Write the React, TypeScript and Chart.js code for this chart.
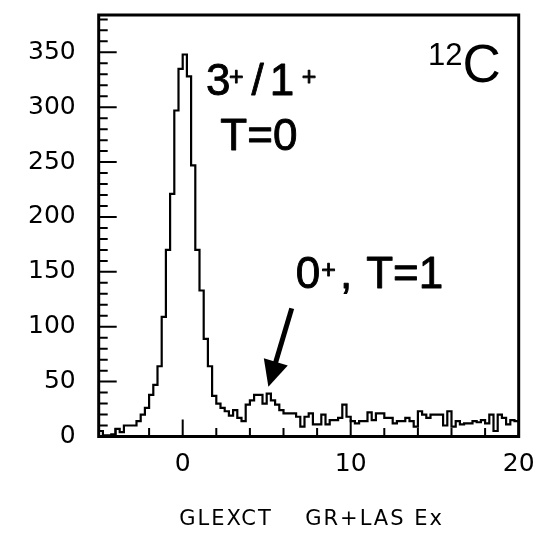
import React, { useEffect, useRef } from "react";
import { Chart, registerables } from "chart.js";

Chart.register(...registerables);

// ---- data ----
const binStart = -5;
const binWidth = 0.25;
const counts = [
  5, 1, 1, 2, 7, 4, 10, 10, 10, 14,
  20, 26, 38, 47, 64, 109, 170, 221, 297, 335,
  348, 328, 247, 170, 133, 89, 64, 37, 30, 26,
  23, 19, 24, 17, 14, 29, 33, 38, 38, 30,
  39, 33, 29, 24, 21, 21, 21, 18, 9, 18,
  21, 11, 11, 20, 11, 15, 15, 17, 29, 18,
  14, 12, 14, 14, 22, 15, 21, 21, 17, 17,
  12, 14, 14, 17, 14, 9, 23, 20, 17, 20,
  20, 20, 10, 23, 9, 14, 11, 12, 12, 14,
  13, 15, 12, 20, 5, 20, 17, 11, 15, 14,
];
const xMin = -5;
const xMax = 20;
const yMin = 0;
const yMax = 384;
const xMajorTicks = [0, 10, 20];
const xMinorTicks = [-4, -2, 2, 4, 6, 8, 12, 14, 16, 18];
const yMajorTicks = [0, 50, 100, 150, 200, 250, 300, 350];
const yMinorStep = 10;
const axisTitleParts = ["GLEXCT", "GR+LAS Ex"];

// annotation anchors (data coordinates)
const peakLabelAnchor = { x: 1.387, y: 310.8 };
const peakLabel2Anchor = { x: 2.24, y: 260.8 };
const isotopeAnchor = { x: 14.6, y: 338.2 };
const stateLabelAnchor = { x: 6.735, y: 135.2 };
const arrowFrom = { x: 6.49, y: 116.7 };
const arrowTo = { x: 5.1, y: 45.3 };

type Part = { t: string; gap: number; sup: boolean };

const FONT = "'Liberation Sans', Arial, sans-serif";

function drawParts(ctx: CanvasRenderingContext2D, x: number, y: number, parts: Part[], size: number, supSize: number, supRaise: number) {
  let cx = x;
  for (const p of parts) {
    cx += p.gap;
    ctx.font = `${p.sup ? supSize : size}px ${FONT}`;
    const ty = p.sup ? y - supRaise : y;
    ctx.fillText(p.t, cx, ty);
    ctx.strokeText(p.t, cx, ty);
    cx += ctx.measureText(p.t).width;
  }
}

const decorPlugin = {
  id: "decor",
  afterDatasetsDraw(chart: any) {
    const ctx: CanvasRenderingContext2D = chart.ctx;
    const { left, right, top, bottom } = chart.chartArea;
    const xs = chart.scales.x;
    const ys = chart.scales.y;
    ctx.save();
    ctx.strokeStyle = "#000";
    ctx.fillStyle = "#000";
    // ticks
    ctx.lineWidth = 2;
    ctx.beginPath();
    for (let v = yMin; v <= yMax; v += yMinorStep) {
      const py = ys.getPixelForValue(v);
      const len = yMajorTicks.includes(v) ? 18 : 9;
      ctx.moveTo(left, py);
      ctx.lineTo(left + len, py);
    }
    for (const v of xMajorTicks) {
      const pxv = xs.getPixelForValue(v);
      ctx.moveTo(pxv, bottom);
      ctx.lineTo(pxv, bottom - 17);
    }
    for (const v of xMinorTicks) {
      const pxv = xs.getPixelForValue(v);
      ctx.moveTo(pxv, bottom);
      ctx.lineTo(pxv, bottom - 8.5);
    }
    ctx.stroke();
    // frame
    ctx.lineWidth = 3;
    ctx.strokeRect(left, top, right - left, bottom - top);

    // annotations
    ctx.textBaseline = "alphabetic";
    ctx.textAlign = "left";
    ctx.lineWidth = 0.9;
    ctx.lineJoin = "round";
    let ax = xs.getPixelForValue(peakLabelAnchor.x);
    let ay = ys.getPixelForValue(peakLabelAnchor.y);
    drawParts(ctx, ax, ay, [
      { t: "3", gap: 0, sup: false },
      { t: "+", gap: -1.5, sup: true },
      { t: "/", gap: 8, sup: false },
      { t: "1", gap: 6, sup: false },
      { t: "+", gap: 7.5, sup: true },
    ], 44, 25, 10);
    ax = xs.getPixelForValue(peakLabel2Anchor.x);
    ay = ys.getPixelForValue(peakLabel2Anchor.y);
    drawParts(ctx, ax, ay, [{ t: "T=0", gap: 0, sup: false }], 44, 25, 10);

    ax = xs.getPixelForValue(isotopeAnchor.x);
    ay = ys.getPixelForValue(isotopeAnchor.y);
    ctx.font = `31px ${FONT}`;
    ctx.fillText("12", ax, ay);
    const w12 = ctx.measureText("12").width;
    ctx.font = `53px ${FONT}`;
    ctx.fillText("C", ax + w12, ay + 17);

    ax = xs.getPixelForValue(stateLabelAnchor.x);
    ay = ys.getPixelForValue(stateLabelAnchor.y);
    drawParts(ctx, ax, ay, [
      { t: "0", gap: 0, sup: false },
      { t: "+", gap: 1, sup: true },
      { t: ",", gap: 4, sup: false },
      { t: "T=1", gap: 14, sup: false },
    ], 44, 25, 10);

    // arrow
    const x1 = xs.getPixelForValue(arrowFrom.x);
    const y1 = ys.getPixelForValue(arrowFrom.y);
    const x2 = xs.getPixelForValue(arrowTo.x);
    const y2 = ys.getPixelForValue(arrowTo.y);
    const dx = x2 - x1, dy = y2 - y1;
    const L = Math.hypot(dx, dy);
    const ux = dx / L, uy = dy / L;
    const headLen = 26, headHalf = 12.5;
    const bx = x2 - ux * headLen, by = y2 - uy * headLen;
    ctx.lineWidth = 5;
    ctx.lineCap = "butt";
    ctx.beginPath();
    ctx.moveTo(x1, y1);
    ctx.lineTo(bx + ux * 2, by + uy * 2);
    ctx.stroke();
    ctx.beginPath();
    ctx.moveTo(x2, y2);
    ctx.lineTo(bx - uy * headHalf, by + ux * headHalf);
    ctx.lineTo(bx + uy * headHalf, by - ux * headHalf);
    ctx.closePath();
    ctx.fill();

    // axis title
    ctx.font = `21px 'DejaVu Sans', sans-serif`;
    (ctx as any).letterSpacing = "2px";
    ctx.textBaseline = "middle";
    ctx.fillText(axisTitleParts[0], left + 80.5, 520);
    ctx.fillText(axisTitleParts[1], left + 206.5, 520);
    (ctx as any).letterSpacing = "0px";
    ctx.restore();
  },
};

export default function App() {
  const ref = useRef<HTMLCanvasElement>(null);
  useEffect(() => {
    const points: { x: number; y: number }[] = [];
    counts.forEach((c, i) => {
      const x0 = binStart + i * binWidth;
      points.push({ x: x0, y: c }, { x: x0 + binWidth, y: c });
    });
    const tickFont = { family: "'DejaVu Sans', sans-serif", size: 25 };
    const chart = new Chart(ref.current as HTMLCanvasElement, {
      type: "line",
      data: {
        datasets: [
          {
            data: points,
            borderColor: "#000",
            borderWidth: 2.2,
            pointRadius: 0,
            fill: false,
            tension: 0,
          },
        ],
      },
      options: {
        animation: false,
        responsive: false,
        devicePixelRatio: 1,
        events: [],
        plugins: { legend: { display: false }, tooltip: { enabled: false } },
        layout: { padding: { top: 15, right: 30.3, left: 0, bottom: 0 } },
        scales: {
          x: {
            type: "linear",
            min: xMin,
            max: xMax,
            grid: { display: false },
            border: { display: false },
            afterBuildTicks: (s: any) => {
              s.ticks = xMajorTicks.map((v) => ({ value: v }));
            },
            afterFit: (s: any) => {
              s.height = 96.5;
              s.paddingLeft = 0;
              s.paddingRight = 0;
            },
            ticks: { font: tickFont, color: "#000", padding: 5, maxRotation: 0, autoSkip: false },
          },
          y: {
            type: "linear",
            min: yMin,
            max: yMax,
            grid: { display: false },
            border: { display: false },
            afterBuildTicks: (s: any) => {
              s.ticks = yMajorTicks.map((v) => ({ value: v }));
            },
            afterFit: (s: any) => {
              s.width = 98.7;
              s.paddingTop = 0;
              s.paddingBottom = 0;
            },
            ticks: { font: tickFont, color: "#000", padding: 15, autoSkip: false },
          },
        },
      } as any,
      plugins: [decorPlugin],
    });
    return () => chart.destroy();
  }, []);
  return (
    <div style={{ position: "absolute", left: 0, top: 0, width: 549, height: 533, background: "#fff" }}>
      <canvas ref={ref} width={549} height={533} style={{ display: "block" }} />
    </div>
  );
}
